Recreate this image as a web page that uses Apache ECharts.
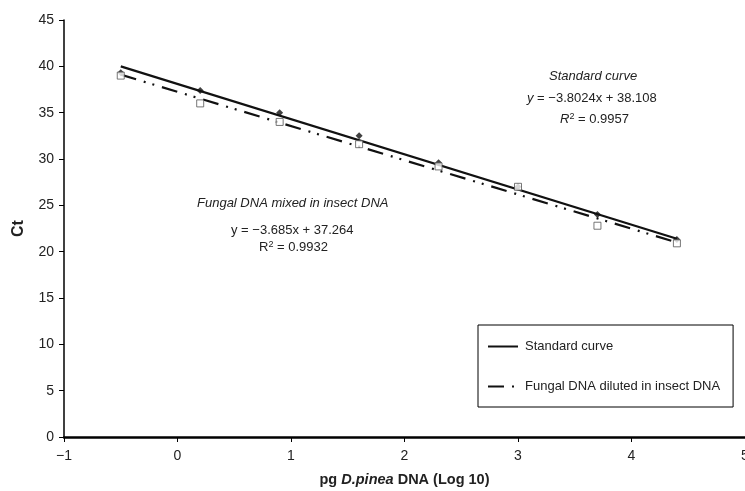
<!DOCTYPE html>
<html lang="en">
<head>
    <meta charset="UTF-8">
    <title>Ct vs pg D.pinea DNA</title>
    <script src="https://cdn.jsdelivr.net/npm/echarts@6/dist/echarts.min.js"></script>
    <style>
        html, body { margin: 0; padding: 0; background: #fff; }
        #chart { width: 745px; height: 491px; }
    </style>
</head>
<body>
    <div id="chart"></div>
    <script>
        // log10 pg DNA dilution points
        var doses = [-0.5, 0.2, 0.9, 1.6, 2.3, 3.0, 3.7, 4.4];
        // Ct values
        var standardCt = [39.3, 37.4, 35.0, 32.5, 29.6, 27.0, 24.0, 21.3];
        var fungalCt = [39.0, 36.0, 34.0, 31.6, 29.2, 27.0, 22.8, 20.9];
        // trendline end points (x from -0.5 to 4.4)
        var trendX = [-0.5, 4.4];
        var standardTrend = [40.0, 21.4];
        var fungalTrend = [39.1, 21.0];

        var font = 'Liberation Sans, Arial, sans-serif';

        function pairs(xs, ys) {
            return xs.map(function (x, i) { return [x, ys[i]]; });
        }
        function minus(v) {
            return String(v).replace('-', '\u2212');
        }

        var chart = echarts.init(document.getElementById('chart'));

        var option = {
            animation: false,
            backgroundColor: '#fff',
            textStyle: { fontFamily: font },
            grid: { left: 64, right: 0, top: 20, bottom: 54, outerBoundsMode: 'none', containLabel: false },
            xAxis: {
                type: 'value',
                min: -1, max: 5, interval: 1,
                splitLine: { show: false },
                axisLine: { onZero: false, lineStyle: { color: '#000', width: 2.5 } },
                axisTick: { length: 5, lineStyle: { color: '#000' } },
                axisLabel: { color: '#222', fontSize: 14, margin: 12, formatter: minus },
                name: '{b|pg }{bi|D.pinea}{b| DNA (Log 10)}',
                nameLocation: 'middle',
                nameGap: 35,
                nameTextStyle: {
                    rich: {
                        b: { fontSize: 14.5, fontWeight: 'bold', color: '#222', fontFamily: font },
                        bi: { fontSize: 14.5, fontWeight: 'bold', fontStyle: 'italic', color: '#222', fontFamily: font }
                    }
                }
            },
            yAxis: {
                type: 'value',
                min: 0, max: 45, interval: 5,
                splitLine: { show: false },
                axisLine: { onZero: false, lineStyle: { color: '#000', width: 1.5 } },
                axisTick: { length: 5, lineStyle: { color: '#000' } },
                axisLabel: { color: '#222', fontSize: 14, margin: 10 },
                name: 'Ct',
                nameLocation: 'middle',
                nameGap: 37,
                nameTextStyle: { fontSize: 16, fontWeight: 'bold', color: '#222' }
            },
            legend: {
                orient: 'vertical',
                left: 478, top: 325,
                padding: [15, 13, 14, 9],
                itemWidth: 30, itemHeight: 14,
                itemGap: 27,
                borderColor: '#000', borderWidth: 1,
                itemStyle: { opacity: 0 },
                textStyle: { fontSize: 13, color: '#222', padding: [0, 0, 0, 2] },
                data: ['Standard curve', 'Fungal DNA diluted in insect DNA']
            },
            series: [
                {
                    name: 'Standard curve',
                    type: 'line',
                    data: pairs(trendX, standardTrend),
                    symbol: 'none',
                    lineStyle: { color: '#111', width: 2.2 },
                    itemStyle: { color: '#111' },
                    z: 3
                },
                {
                    name: 'Fungal DNA diluted in insect DNA',
                    type: 'line',
                    data: pairs(trendX, fungalTrend),
                    symbol: 'none',
                    lineStyle: { color: '#111', width: 2.2, type: [16, 8, 2, 7, 2, 8] },
                    itemStyle: { color: '#111' },
                    z: 3
                },
                {
                    name: 'std points',
                    type: 'scatter',
                    data: pairs(doses, standardCt),
                    symbol: 'diamond',
                    symbolSize: 7,
                    itemStyle: { color: '#111' },
                    z: 4
                },
                {
                    name: 'fungal points',
                    type: 'scatter',
                    data: pairs(doses, fungalCt),
                    symbol: 'rect',
                    symbolSize: 7,
                    itemStyle: { color: '#fff', borderColor: '#555', borderWidth: 1 },
                    z: 5
                }
            ],
            graphic: [
                {
                    type: 'text', left: 549, top: 70,
                    style: { text: 'Standard curve', font: 'italic 13px ' + font, fill: '#222' }
                },
                {
                    type: 'text', left: 527, top: 92,
                    style: {
                        text: '{i|y} = \u22123.8024x + 38.108',
                        font: '13px ' + font, fill: '#222',
                        rich: { i: { fontStyle: 'italic', fontSize: 13, fontFamily: font } }
                    }
                },
                {
                    type: 'text', left: 560, top: 112,
                    style: {
                        text: '{i|R}{s|2} = 0.9957',
                        font: '13px ' + font, fill: '#222',
                        rich: {
                            i: { fontStyle: 'italic', fontSize: 13, fontFamily: font },
                            s: { fontSize: 9, verticalAlign: 'top', padding: [0, 0, 6, 0], fontFamily: font }
                        }
                    }
                },
                {
                    type: 'text', left: 197, top: 197,
                    style: { text: 'Fungal DNA mixed in insect DNA', font: 'italic 13px ' + font, fill: '#222' }
                },
                {
                    type: 'text', left: 231, top: 224,
                    style: { text: 'y = \u22123.685x + 37.264', font: '13px ' + font, fill: '#222' }
                },
                {
                    type: 'text', left: 259, top: 240,
                    style: {
                        text: 'R{s|2} = 0.9932',
                        font: '13px ' + font, fill: '#222',
                        rich: {
                            s: { fontSize: 9, verticalAlign: 'top', padding: [0, 0, 6, 0], fontFamily: font }
                        }
                    }
                }
            ]
        };

        chart.setOption(option);
    </script>
</body>
</html>
